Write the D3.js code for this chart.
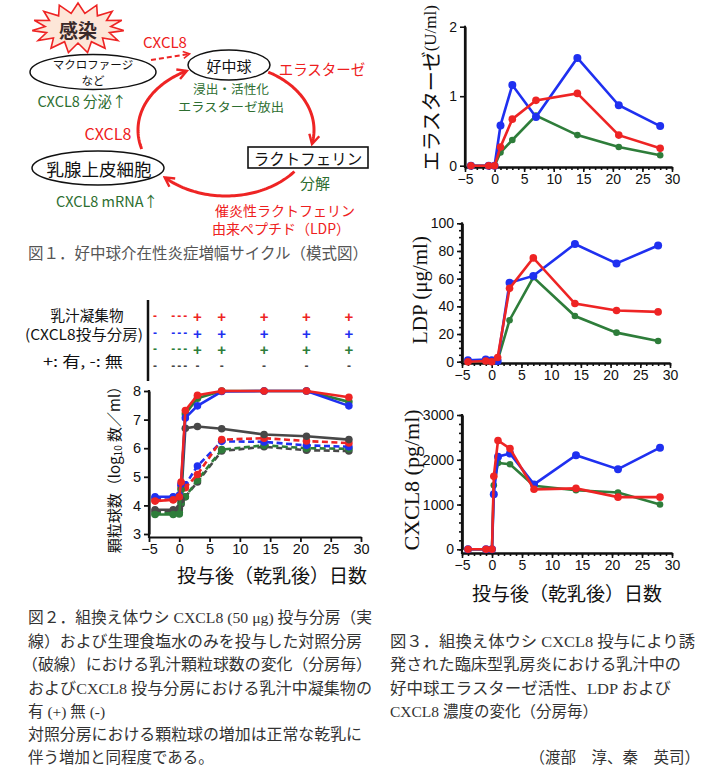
<!DOCTYPE html>
<html><head><meta charset="utf-8">
<script src="https://cdn.jsdelivr.net/npm/d3@7"></script>
<style>body{margin:0;background:#fff} svg{display:block}</style>
</head><body>
<svg id="c" width="705" height="778"></svg>
<script>
// ---------------- DATA ----------------
// Fig.2 : granulocyte count (log10 /ml)
const fig2Days = [-4, -1, 0, 0.3, 1, 3, 7, 14, 21, 28];
const f2RedSolid   = [4.15, 4.2, 4.3, 4.82, 7.32, 7.85, 8.0, 8.0, 8.0, 7.78];
const f2BlueSolid  = [4.3, 4.3, 4.35, 4.75, 7.06, 7.48, 7.98, 8.0, 8.0, 7.48];
const f2GreenSolid = [3.68, 3.68, 3.7, 4.55, 7.2, 7.75, 8.0, 8.0, 8.0, 7.62];
const f2GraySolid  = [3.85, 3.85, 3.9, 4.2, 6.7, 6.76, 6.68, 6.48, 6.42, 6.3];
const f2RedDash    = [4.18, 4.2, 4.28, 4.62, 4.62, 5.08, 6.3, 6.35, 6.25, 6.18];
const f2BlueDash   = [4.27, 4.28, 4.3, 4.7, 4.72, 5.38, 6.24, 6.22, 6.1, 6.05];
const f2GreenDash  = [3.72, 3.72, 3.75, 4.1, 4.3, 4.88, 5.95, 6.1, 6.0, 5.98];
const f2GrayDash   = [3.8, 3.8, 3.85, 4.05, 4.3, 4.82, 5.9, 6.05, 5.93, 5.9];
const fig2YTicks = [3, 4, 5, 6, 7, 8];
const xTicks = [-5, 0, 5, 10, 15, 20, 25, 30];
// Fig.2 legend (coagulum +/-)
const legendDays = [-4, -1, 0, 1, 3, 7, 14, 21, 28];
const legRed   = ['-', '-', '-', '-', '+', '+', '+', '+', '+'];
const legBlue  = ['-', '-', '-', '-', '+', '+', '+', '+', '+'];
const legGreen = ['-', '-', '-', '-', '+', '+', '+', '+', '+'];
const legGray  = ['-', '-', '-', '-', '-', '-', '-', '-', '-'];
// Fig.3 elastase (U/ml)
const elaDays = [-4, -1, 0, 1, 3, 7, 14, 21, 28];
const elaRed   = [0, 0, 0, 0.27, 0.67, 0.94, 1.04, 0.44, 0.25];
const elaBlue  = [0, 0, 0, 0.58, 1.16, 0.70, 1.55, 0.87, 0.57];
const elaGreen = [0, 0, 0, 0.19, 0.37, 0.72, 0.44, 0.27, 0.15];
const elaYTicks = [0, 1, 2];
// Fig.3 LDP (ug/ml)
const ldpDays = [-4, -1, 0, 1, 3, 7, 14, 21, 28];
const ldpRed   = [0, 0.5, 0, 3, 53, 75, 42, 37, 36];
const ldpBlue  = [1, 1.5, 1, 0.5, 57, 62, 85, 71, 84];
const ldpGreen = [0, 0.5, 0.5, 1, 30, 61, 33, 21, 15];
const ldpYTicks = [0, 20, 40, 60, 80, 100];
// Fig.3 CXCL8 (pg/ml)
const cxDays = [-4, -1, 0, 0.3, 1, 3, 7, 14, 21, 28];
const cxRed   = [0, 0, 0, 1630, 2430, 2250, 1340, 1360, 1165, 1165];
const cxBlue  = [0, 0, 0, 1230, 2070, 2140, 1450, 2100, 1790, 2270];
const cxGreen = [0, 0, 0, 1430, 1930, 1900, 1420, 1320, 1270, 1000];
const cxYTicks = [0, 1000, 2000, 3000];

// ---------------- STYLE ----------------
const JP = "'Noto Sans CJK JP', sans-serif";
const SERIF = "'Liberation Serif', 'Noto Sans CJK JP', serif";
const SANS = "'Liberation Sans', Arial, sans-serif";
const RED = '#ee2424', BLUE = '#1f30f0', GREEN = '#2e7d3a', GRAY = '#484848';
const TRED = '#ee2020', TGREEN = '#2d6e30';
const fmt = d3.format('d');

const svg = d3.select('#c');
const defs = svg.append('defs');
defs.append('marker').attr('id', 'ah').attr('viewBox', '0 0 14 14')
  .attr('refX', 11).attr('refY', 7).attr('markerWidth', 13).attr('markerHeight', 13)
  .attr('markerUnits', 'userSpaceOnUse').attr('orient', 'auto')
  .append('path').attr('d', 'M2,1.5 L12,7 L2,12.5').attr('fill', 'none')
  .attr('stroke', RED).attr('stroke-width', 2.6).attr('stroke-linejoin', 'miter');
defs.append('marker').attr('id', 'ah2').attr('viewBox', '0 0 14 14')
  .attr('refX', 11).attr('refY', 7).attr('markerWidth', 9).attr('markerHeight', 9)
  .attr('markerUnits', 'userSpaceOnUse').attr('orient', 'auto')
  .append('path').attr('d', 'M2,1.5 L12,7 L2,12.5').attr('fill', 'none')
  .attr('stroke', RED).attr('stroke-width', 2.4);

function txt(g, x, y, s, size, color, opts = {}) {
  const t = g.append('text').attr('x', x).attr('y', y).text(s)
    .attr('font-family', opts.family || JP).attr('font-size', size)
    .attr('fill', color).attr('dominant-baseline', 'central')
    .attr('text-anchor', opts.anchor || 'middle');
  if (opts.weight) t.attr('font-weight', opts.weight);
  if (opts.len) t.attr('textLength', opts.len).attr('lengthAdjust', 'spacingAndGlyphs');
  return t;
}

// ---------------- FIG 1 (diagram) ----------------
const f1 = svg.append('g');
const nSp = 15;
const starPts = d3.range(nSp * 2).map(i => {
  const a = -Math.PI / 2 + i * Math.PI / nSp;
  const o = i % 2 === 0;
  const rx = o ? 46 : 33, ry = o ? 25 : 15;
  return [78 + rx * Math.cos(a), 28 + ry * Math.sin(a)];
});
f1.append('path').attr('d', d3.line().curve(d3.curveLinearClosed)(starPts))
  .attr('fill', '#fde6d8').attr('stroke', RED).attr('stroke-width', 1.6);
txt(f1, 78, 29, '感染', 19, '#3a2a2a', {weight: 700});

const cyc = {cx: 226, cy: 130, rx: 88, ry: 66};
[[-1.07, 0.2], [0.68, 2.33], [2.85, 4.24]].forEach(([a0, a1]) => {
  const pts = d3.range(61).map(i => {
    const t = a0 + (a1 - a0) * i / 60;
    return [cyc.cx + cyc.rx * Math.cos(t), cyc.cy + cyc.ry * Math.sin(t)];
  });
  f1.append('path').attr('d', d3.line()(pts)).attr('fill', 'none')
    .attr('stroke', RED).attr('stroke-width', 3).attr('marker-end', 'url(#ah)');
});
f1.append('path').attr('d', d3.line()([[151, 60], [189, 54]])).attr('fill', 'none')
  .attr('stroke', RED).attr('stroke-width', 2).attr('stroke-dasharray', '5,3')
  .attr('marker-end', 'url(#ah2)');

f1.append('ellipse').attr('cx', 93).attr('cy', 72).attr('rx', 63).attr('ry', 17.5)
  .attr('fill', '#fff').attr('stroke', '#111').attr('stroke-width', 1.5);
txt(f1, 93, 64, 'マクロファージ', 11.5, '#111');
txt(f1, 93, 80, 'など', 11.5, '#111');
f1.append('ellipse').attr('cx', 229).attr('cy', 65).attr('rx', 41).attr('ry', 15)
  .attr('fill', '#fff').attr('stroke', '#111').attr('stroke-width', 1.5);
txt(f1, 229, 65, '好中球', 15, '#111');
f1.append('ellipse').attr('cx', 98).attr('cy', 168).attr('rx', 66).attr('ry', 17)
  .attr('fill', '#fff').attr('stroke', '#111').attr('stroke-width', 1.5);
txt(f1, 99, 168, '乳腺上皮細胞', 17.5, '#111');
f1.append('rect').attr('x', 248).attr('y', 147).attr('width', 120).attr('height', 21)
  .attr('fill', '#fff').attr('stroke', '#111').attr('stroke-width', 1.6);
txt(f1, 308, 157.5, 'ラクトフェリン', 15.5, '#111');

txt(f1, 165, 41, 'CXCL8', 15, TRED);
txt(f1, 322, 68, 'エラスターゼ', 14.5, TRED);
txt(f1, 82, 100, 'CXCL8 分泌↑', 14.5, TGREEN);
txt(f1, 231, 88.5, '浸出・活性化', 12, TGREEN, {len: 76});
txt(f1, 231, 106.5, 'エラスターゼ放出', 12, TGREEN, {len: 106});
txt(f1, 108, 133, 'CXCL8', 16, TRED);
txt(f1, 315, 182, '分解', 15, TGREEN);
txt(f1, 107, 200, 'CXCL8 mRNA↑', 14.5, TGREEN);
txt(f1, 285, 210, '催炎性ラクトフェリン', 14, TRED);
txt(f1, 281, 228, '由来ペプチド（LDP）', 14, TRED);
txt(f1, 28, 252, '図１．好中球介在性炎症増幅サイクル（模式図）', 15.5, '#555', {anchor: 'start', len: 340});

// ---------------- FIG 2 ----------------
const f2 = svg.append('g');
const x2 = d3.scaleLinear().domain([-5, 30]).range([149, 361]);
const y2 = d3.scaleLinear().domain([3, 8]).range([534, 391]);

txt(f2, 87, 314, '乳汁凝集物', 14.5, '#111', {len: 73});
txt(f2, 84, 333, '(CXCL8投与分房)', 14.5, '#111', {len: 118});
txt(f2, 83, 360, '+: 有, -: 無', 14.5, '#111', {len: 80});
f2.append('line').attr('x1', 148).attr('x2', 148).attr('y1', 300).attr('y2', 381)
  .attr('stroke', '#111').attr('stroke-width', 2.5);
[[legRed, RED, 316], [legBlue, BLUE, 333], [legGreen, GREEN, 349], [legGray, GRAY, 366]]
  .forEach(([arr, col, yy]) => {
    arr.forEach((s, i) => {
      txt(f2, x2(legendDays[i]), yy, s, s === '+' ? 15 : 12, col, {family: SANS, weight: 700});
    });
  });

const ax2x = f2.append('g').attr('transform', 'translate(0,537)')
  .call(d3.axisBottom(x2).tickValues(xTicks).tickFormat(fmt).tickSize(5).tickSizeOuter(0).tickPadding(2));
const ax2y = f2.append('g').attr('transform', 'translate(149,0)')
  .call(d3.axisLeft(y2).tickValues(fig2YTicks).tickFormat(fmt).tickSize(5).tickSizeOuter(0).tickPadding(3));
f2.append('line').attr('x1', 149).attr('x2', 149).attr('y1', 390).attr('y2', 538)
  .attr('stroke', '#111').attr('stroke-width', 2.2);
[ax2x, ax2y].forEach(a => {
  a.select('.domain').attr('stroke', '#111').attr('stroke-width', 2.2);
  a.selectAll('.tick line').attr('stroke', '#111').attr('stroke-width', 1.8);
  a.selectAll('.tick text').attr('font-family', SANS).attr('font-size', 14.5).attr('fill', '#111');
});

const line2 = d3.line().x((d, i) => x2(fig2Days[i])).y(d => y2(d));
function series2(vals, col, dashed) {
  f2.append('path').attr('d', line2(vals)).attr('fill', 'none').attr('stroke', col)
    .attr('stroke-width', 2.6).attr('stroke-dasharray', dashed ? '6,3.5' : null);
  f2.selectAll(null).data(vals).enter().append('circle')
    .attr('cx', (d, i) => x2(fig2Days[i])).attr('cy', d => y2(d)).attr('r', 3.8).attr('fill', col);
}
series2(f2GrayDash, GRAY, true);
series2(f2GreenDash, GREEN, true);
series2(f2BlueDash, BLUE, true);
series2(f2RedDash, RED, true);
series2(f2GraySolid, GRAY, false);
series2(f2GreenSolid, GREEN, false);
series2(f2BlueSolid, BLUE, false);
series2(f2RedSolid, RED, false);

const yl2 = f2.append('text').attr('transform', 'translate(113,466) rotate(-90)')
  .attr('text-anchor', 'middle').attr('dominant-baseline', 'central')
  .attr('font-family', JP).attr('font-size', 15).attr('fill', '#111');
yl2.append('tspan').text('顆粒球数（log');
yl2.append('tspan').text('10').attr('font-size', 10).attr('dy', 4);
yl2.append('tspan').text(' 数／ml）').attr('dy', -4);
txt(f2, 272, 574, '投与後（乾乳後）日数', 19, '#111');

// ---------------- FIG 3 ----------------
function chart3(cfg) {
  const g = svg.append('g');
  const x = d3.scaleLinear().domain([-5, 30]).range(cfg.xr);
  const y = d3.scaleLinear().domain(cfg.yd).range(cfg.yr);
  const mx = g.append('g').attr('transform', `translate(0,${cfg.xAxisY})`)
    .call(d3.axisBottom(x).tickValues(d3.range(-5, 31, 1)).tickSize(3).tickFormat('').tickSizeOuter(0));
  const ax = g.append('g').attr('transform', `translate(0,${cfg.xAxisY})`)
    .call(d3.axisBottom(x).tickValues(xTicks).tickFormat(fmt).tickSize(5).tickSizeOuter(0).tickPadding(2));
  const parts = [mx, ax];
  if (cfg.yMinor) {
    const my = g.append('g').attr('transform', `translate(${cfg.xr[0]},0)`)
      .call(d3.axisLeft(y).tickValues(d3.range(cfg.yd[0], cfg.yd[1] + 1e-9, cfg.yMinor)).tickSize(3).tickFormat('').tickSizeOuter(0));
    parts.push(my);
  }
  const ay = g.append('g').attr('transform', `translate(${cfg.xr[0]},0)`)
    .call(d3.axisLeft(y).tickValues(cfg.yTicks).tickFormat(fmt).tickSize(5).tickSizeOuter(0).tickPadding(3));
  parts.push(ay);
  parts.forEach(a => {
    a.select('.domain').attr('stroke', '#111').attr('stroke-width', 2.2);
    a.selectAll('.tick line').attr('stroke', '#111').attr('stroke-width', 1.6);
    a.selectAll('.tick text').attr('font-family', SANS).attr('font-size', 14).attr('fill', '#111');
  });
  g.append('line').attr('x1', cfg.xr[0]).attr('x2', cfg.xr[0])
    .attr('y1', cfg.yr[1] - 1).attr('y2', cfg.xAxisY + 1).attr('stroke', '#111').attr('stroke-width', 2.2);
  const ln = d3.line().x((d, i) => x(cfg.days[i])).y(d => y(d));
  cfg.series.forEach(([vals, col, r]) => {
    g.append('path').attr('d', ln(vals)).attr('fill', 'none').attr('stroke', col).attr('stroke-width', 2.6);
    g.selectAll(null).data(vals).enter().append('circle')
      .attr('cx', (d, i) => x(cfg.days[i])).attr('cy', d => y(d)).attr('r', r).attr('fill', col);
  });
  return g;
}

chart3({xr: [465, 672], yd: [0, 2], yr: [165.7, 26.7], xAxisY: 167, yTicks: elaYTicks, days: elaDays,
  series: [[elaGreen, GREEN, 3.3], [elaBlue, BLUE, 4], [elaRed, RED, 3.8]]});
chart3({xr: [462, 670], yd: [0, 100], yr: [361.7, 223.3], xAxisY: 363, yTicks: ldpYTicks, yMinor: 5, days: ldpDays,
  series: [[ldpGreen, GREEN, 3.3], [ldpBlue, BLUE, 4], [ldpRed, RED, 3.8]]});
chart3({xr: [462, 672], yd: [0, 3000], yr: [549.3, 415], xAxisY: 553, yTicks: cxYTicks, yMinor: 200, days: cxDays,
  series: [[cxGreen, GREEN, 3.3], [cxBlue, BLUE, 4], [cxRed, RED, 3.8]]});

const ela = svg.append('text').attr('transform', 'translate(430,88) rotate(-90)')
  .attr('text-anchor', 'middle').attr('dominant-baseline', 'central').attr('fill', '#111');
ela.append('tspan').text('エラスターゼ').attr('font-family', JP).attr('font-size', 20);
ela.append('tspan').text('(U/ml)').attr('font-family', SERIF).attr('font-size', 17);
svg.append('text').attr('transform', 'translate(420,290) rotate(-90)').text('LDP (μg/ml)')
  .attr('text-anchor', 'middle').attr('dominant-baseline', 'central')
  .attr('font-family', SERIF).attr('font-size', 21).attr('fill', '#111');
svg.append('text').attr('transform', 'translate(411,480) rotate(-90)').text('CXCL8 (pg/ml)')
  .attr('text-anchor', 'middle').attr('dominant-baseline', 'central')
  .attr('font-family', SERIF).attr('font-size', 22).attr('fill', '#111');
txt(svg, 567, 592, '投与後（乾乳後）日数', 19, '#111');

// ---------------- CAPTIONS ----------------
const cap2 = [
  ['図２．組換え体ウシ CXCL8 (50 μg) 投与分房（実', 344],
  ['線）および生理食塩水のみを投与した対照分房', 334],
  ['（破線）における乳汁顆粒球数の変化（分房毎）', 350],
  ['およびCXCL8 投与分房における乳汁中凝集物の', 344],
  ['有 (+) 無 (-)', 0],
  ['対照分房における顆粒球の増加は正常な乾乳に', 334],
  ['伴う増加と同程度である。', 0]
];
const cap2Y = [617, 641, 664, 688, 711, 734, 757];
cap2.forEach(([s, w], i) => {
  txt(svg, i === 2 ? 22 : 28, cap2Y[i], s, 15.5, '#333', {anchor: 'start', family: SERIF, len: w || null});
});
const cap3 = [
  ['図３．組換え体ウシ CXCL8 投与により誘', 305],
  ['発された臨床型乳房炎における乳汁中の', 291],
  ['好中球エラスターゼ活性、LDP および', 281],
  ['CXCL8 濃度の変化（分房毎）', 0]
];
const cap3Y = [641, 664, 688, 711];
cap3.forEach(([s, w], i) => {
  txt(svg, 390, cap3Y[i], s, 15.5, '#333', {anchor: 'start', family: SERIF, len: w || null});
});
txt(svg, 700, 757, '（渡部　淳、秦　英司）', 15.5, '#333', {anchor: 'end', family: SERIF});
</script>
</body></html>
